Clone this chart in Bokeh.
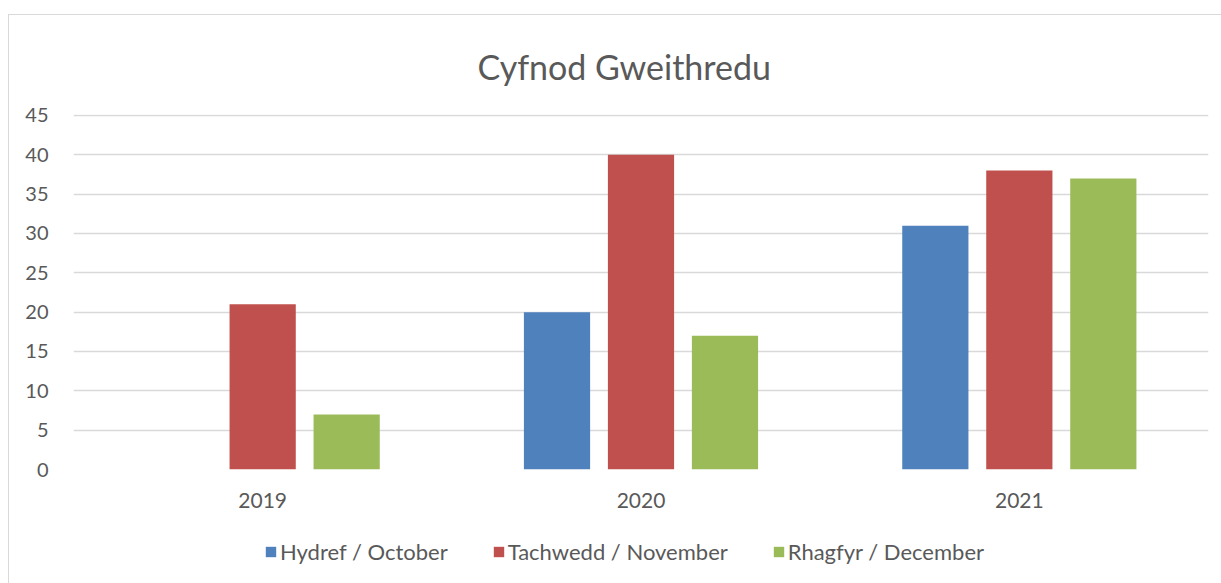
from bokeh.plotting import figure
from bokeh.layouts import column
from bokeh.models import ColumnDataSource, FactorRange, Range1d, FixedTicker, Legend, LegendItem
from bokeh.transform import dodge
from bokeh.embed import file_html
from bokeh.resources import INLINE

# ---- data ----
years = ["2019", "2020", "2021"]
october = [0, 20, 31]
november = [21, 40, 38]
december = [7, 17, 37]
series_labels = ["Hydref / October", "Tachwedd / November", "Rhagfyr / December"]
y_ticks = [0, 5, 10, 15, 20, 25, 30, 35, 40, 45]
chart_title = "Cyfnod Gweithredu"

colors = ["#4F81BD", "#C0504D", "#9BBB59"]
FONT = "Lato"
TXT = "#595959"
GRID = "#d9d9d9"

src = ColumnDataSource(dict(x=years, oct=october, nov=november, dec=december))

p = figure(
    x_range=FactorRange(*years, range_padding=0),
    y_range=Range1d(0, 45.127),
    width=1212, height=505,
    min_border_left=64, min_border_right=13,
    min_border_top=98, min_border_bottom=51,
    output_backend="svg", toolbar_location=None,
)

offsets = [-0.222, 0.0, 0.222]
cols = ["oct", "nov", "dec"]
for c, off, col in zip(cols, offsets, colors):
    p.vbar(x=dodge("x", off, range=p.x_range), top=c, width=0.175, source=src,
           fill_color=col, line_color=None)

p.title.text = chart_title
p.title.align = "left"
p.title.offset = 404
p.title.text_font = FONT
p.title.text_font_size = "34px"
p.title.text_font_style = "normal"
p.title.text_color = TXT
p.title.standoff = 56

p.outline_line_color = None
p.xgrid.grid_line_color = None
p.ygrid.grid_line_color = GRID
p.ygrid.grid_line_width = 1.5

p.yaxis.ticker = FixedTicker(ticks=y_ticks)
for ax in (p.xaxis[0], p.yaxis[0]):
    ax.axis_line_color = None
    ax.major_tick_line_color = None
    ax.minor_tick_line_color = None
    ax.major_label_text_font = FONT
    ax.major_label_text_color = TXT
p.yaxis.major_label_text_font_size = "20px"
p.yaxis.major_label_standoff = 19
p.xaxis.major_label_text_font_size = "21px"
p.xaxis.major_label_standoff = 17

# ---- legend strip below the chart ----
lg = figure(width=1212, height=63, x_range=Range1d(0, 1), y_range=Range1d(0, 1),
            x_axis_type=None, y_axis_type=None, min_border=0,
            output_backend="svg", toolbar_location=None)
lg.outline_line_color = None
lg.grid.grid_line_color = None
swatch = ColumnDataSource(dict(x=[float("nan")], top=[float("nan")]))
dummies = [lg.vbar(x="x", top="top", width=0.1, source=swatch, fill_color=col, line_color=None)
           for col in colors]
legend = Legend(items=[LegendItem(label=l, renderers=[r]) for l, r in zip(series_labels, dummies)],
                orientation="horizontal", location=(191, 18),
                border_line_color=None, background_fill_alpha=0,
                glyph_width=13, glyph_height=13, label_standoff=3, spacing=44,
                label_text_font=FONT, label_text_font_size="22px", label_text_color=TXT,
                padding=0, margin=0)
lg.add_layout(legend, "center")

layout = column(p, lg, spacing=0,
                styles={"margin-left": "8px", "margin-top": "14px",
                        "border-left": "1px solid " + GRID, "border-top": "1px solid " + GRID})

open("out.html", "w").write(file_html(layout, INLINE))
